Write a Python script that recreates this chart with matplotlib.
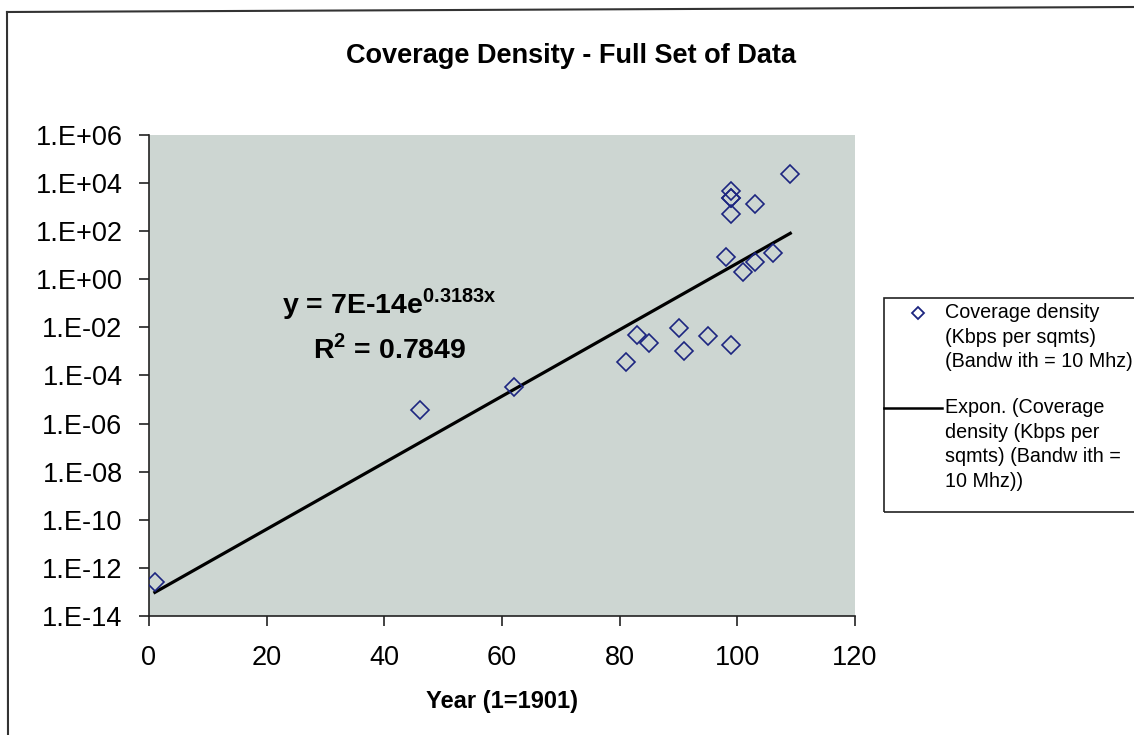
import matplotlib
matplotlib.use('Agg')
import matplotlib.pyplot as plt
from matplotlib.lines import Line2D
from matplotlib.patches import Rectangle
import numpy as np

plt.rcParams['font.family'] = ['Liberation Sans', 'DejaVu Sans']
plt.rcParams['mathtext.fontset'] = 'custom'
plt.rcParams['mathtext.rm'] = 'Liberation Sans'
plt.rcParams['mathtext.bf'] = 'Liberation Sans:bold'

# year index (1 = 1901) and coverage density (Kbps per sqm)
years = [1, 46, 62, 81, 83, 85, 90, 91, 95, 99, 98, 99, 99, 99, 99, 101, 103, 103, 106, 109]
density = [2.7e-13, 3.7e-6, 3.4e-5, 3.6e-4, 4.8e-3, 2.2e-3, 9.1e-3, 1.05e-3, 4.5e-3, 1.9e-3,
           8.2, 5.2e2, 2.3e3, 4.8e3, 2.3e3, 2.1, 5.2, 1.4e3, 12.8, 2.4e4]

# excel exponential trendline y = a*e^(b x)
trend_a = 7e-14
trend_b = 0.3183
r_squared = 0.7849

xticks = [0, 20, 40, 60, 80, 100, 120]
yticks = [1e-14, 1e-12, 1e-10, 1e-8, 1e-6, 1e-4, 1e-2, 1e0, 1e2, 1e4, 1e6]


def excel_sci(v):
	e = int(round(np.log10(v)))
	return '1.E%s%02d' % ('+' if e >= 0 else '-', abs(e))


W, H = 1134, 735
fig = plt.figure(figsize=(W/100, H/100), dpi=100)
ax = fig.add_axes([149/W, 1-616/H, 706/W, 481/H])
ax.set_facecolor('#cdd6d2')

ax.set_yscale('log')
ax.set_xlim(0, 120)
ax.set_ylim(1e-14, 1e6)

tx = np.linspace(min(years), max(years), 200)
ax.plot(tx, trend_a*np.exp(trend_b*tx), color='black', lw=2.3, zorder=2)
ax.plot(years, density, linestyle='none', marker='D', ms=9, mfc='none',
		mec='#1c2580', mew=1.2, zorder=3)

ax.set_xticks(xticks)
ax.set_yticks(yticks)
ax.set_yticklabels([excel_sci(v) for v in yticks])
ax.yaxis.set_minor_locator(matplotlib.ticker.NullLocator())
ax.tick_params(axis='both', labelsize=19.5, direction='out', length=7, width=1.2, color='#222222')
ax.tick_params(axis='x', pad=14)
ax.tick_params(axis='y', pad=12)

for s in ['top', 'right']:
	ax.spines[s].set_visible(False)
for s in ['left', 'bottom']:
	ax.spines[s].set_color('#222222')
	ax.spines[s].set_linewidth(1.2)

fig.text(502/W, 1-708/H, 'Year (1=1901)', fontsize=17, fontweight='bold',
		 ha='center', va='baseline')

fig.text(571/W, 1-63/H, 'Coverage Density - Full Set of Data', fontsize=19.5,
		 fontweight='bold', ha='center', va='baseline')

# trendline equation label
fig.text(282/W, 1-313/H, r'y = 7E-14e$^{\mathbf{%.4fx}}$' % trend_b, fontsize=20.5,
		 fontweight='bold', va='baseline')
fig.text(313/W, 1-358/H, r'R$^{\mathbf{2}}$ = %.4f' % r_squared, fontsize=20.5,
		 fontweight='bold', va='baseline')

# legend box (Excel style, handle beside first line of each entry)
fig.patches.append(Rectangle((884/W, 1-512/H), 260/W, 214/H, transform=fig.transFigure,
							 fill=False, edgecolor='#222222', lw=1.2))
fig.lines.append(Line2D([918/W], [1-313/H], transform=fig.transFigure, marker='D', ms=6,
						mfc='none', mec='#1c2580', mew=1.3, linestyle='none'))
fig.lines.append(Line2D([884/W, 942/W], [1-408/H, 1-408/H], transform=fig.transFigure,
						color='black', lw=1.8))
lg_kw = dict(fontsize=14.2, va='top', ha='left', linespacing=1.38)
fig.text(945/W, 1-303/H, 'Coverage density\n(Kbps per sqmts)\n(Bandw ith = 10 Mhz)', **lg_kw)
fig.text(945/W, 1-398/H, 'Expon. (Coverage\ndensity (Kbps per\nsqmts) (Bandw ith =\n10 Mhz))', **lg_kw)

# outer chart frame
fig.lines.append(Line2D([7/W, W/W], [1-12/H, 1-7/H], transform=fig.transFigure, color='#333333', lw=1.5))
fig.lines.append(Line2D([7/W, 8/W], [1-12/H, 0], transform=fig.transFigure, color='#333333', lw=1.5))

fig.savefig('out.png', dpi=100, facecolor='white')
